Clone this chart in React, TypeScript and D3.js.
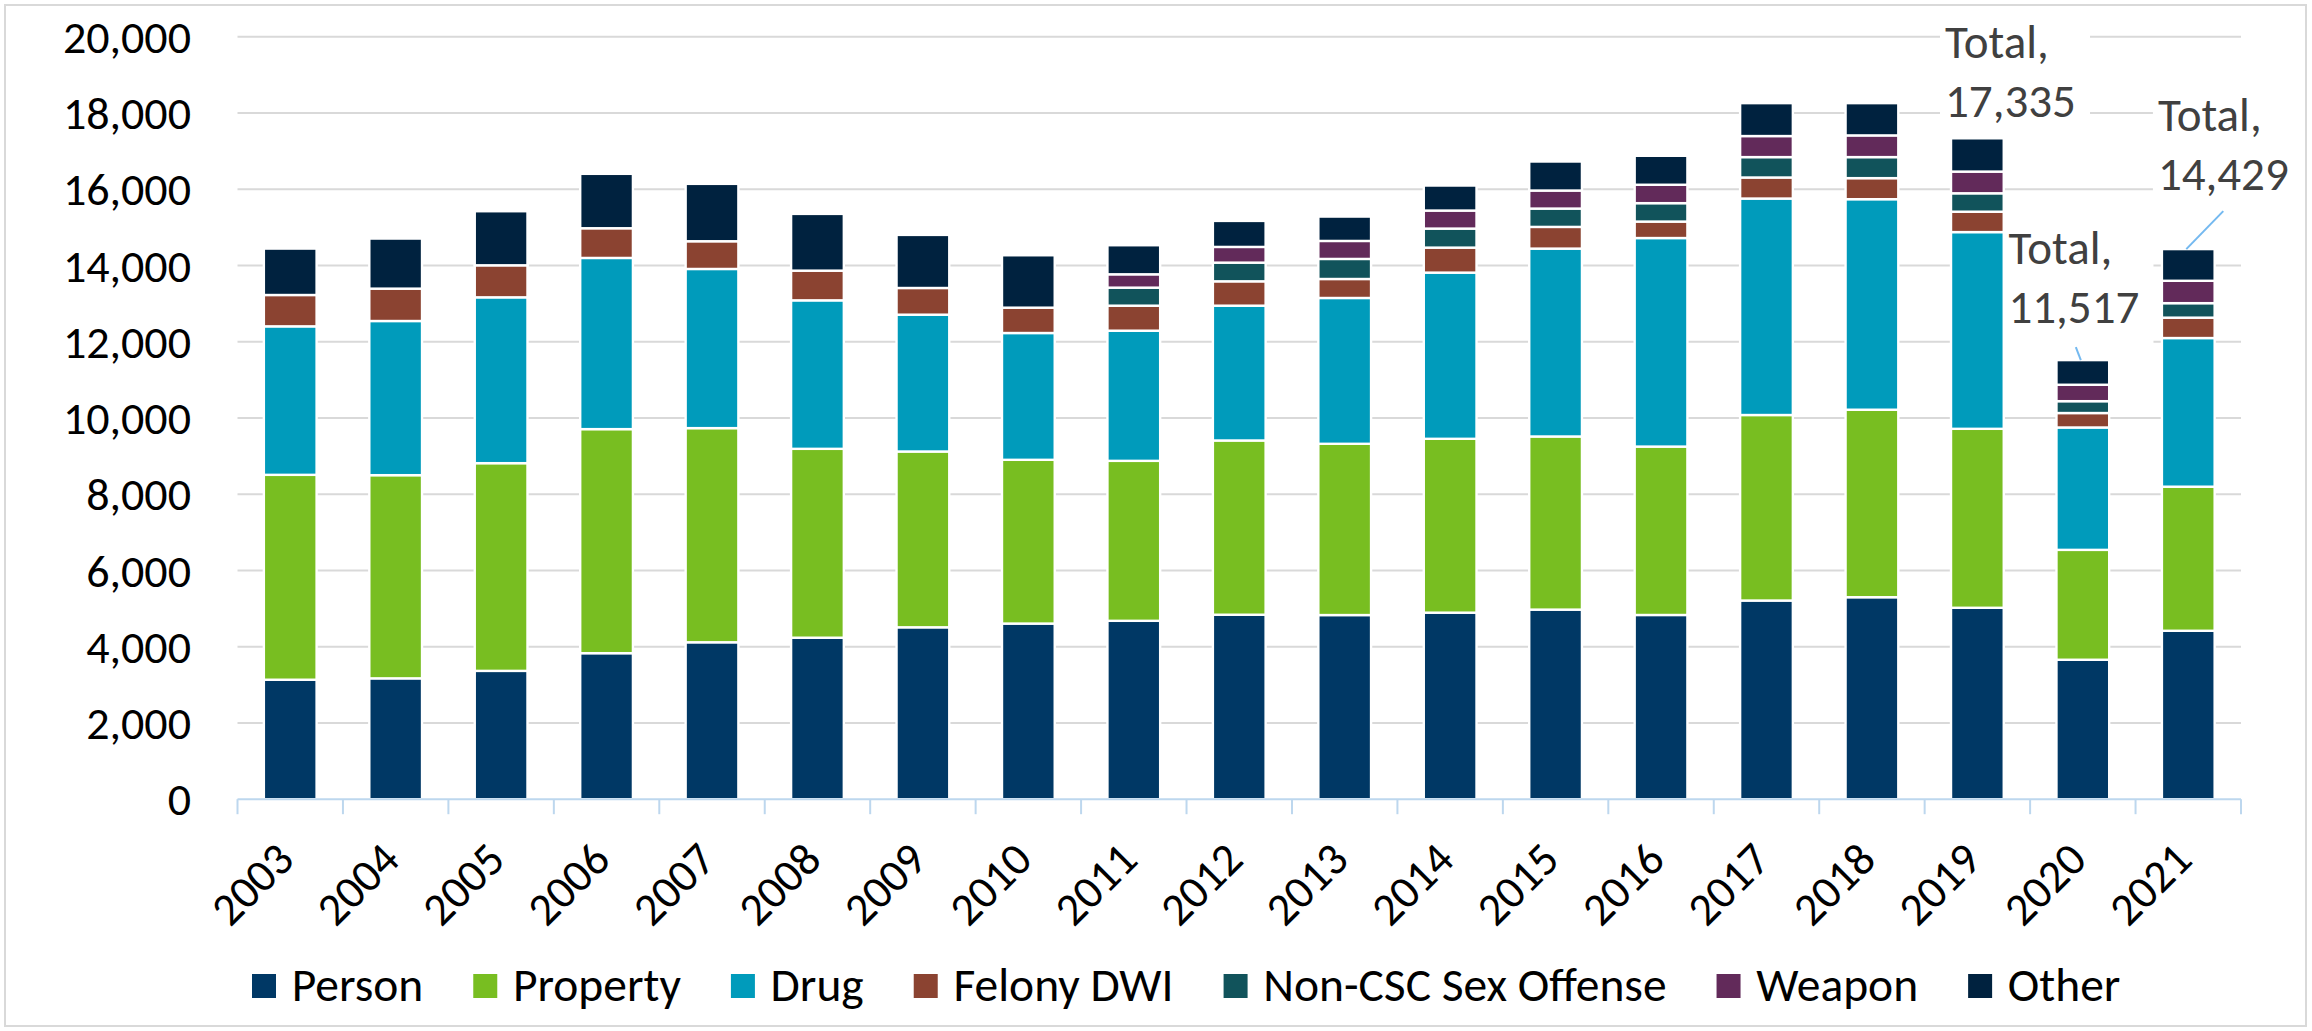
import { useEffect, useRef } from "react";
import * as d3 from "d3";

const years = [
  "2003", "2004", "2005", "2006", "2007", "2008", "2009", "2010", "2011", "2012",
  "2013", "2014", "2015", "2016", "2017", "2018", "2019", "2020", "2021",
];

const person = [3134, 3170, 3366, 3830, 4116, 4236, 4509, 4607, 4679, 4839, 4830, 4893, 4973, 4832, 5211, 5298, 5021, 3658, 4418];
const property = [5374, 5329, 5448, 5877, 5617, 4954, 4611, 4295, 4196, 4570, 4492, 4560, 4541, 4417, 4866, 4918, 4694, 2882, 3779];
const drug = [3895, 4044, 4350, 4490, 4175, 3895, 3589, 3326, 3414, 3536, 3825, 4359, 4928, 5470, 5678, 5522, 5160, 3210, 3899];
const felonyDwi = [822, 849, 840, 779, 727, 779, 700, 665, 656, 639, 498, 656, 569, 432, 552, 552, 535, 379, 535];
const sexOffense = [0, 0, 0, 0, 0, 0, 0, 0, 473, 490, 526, 499, 481, 483, 535, 552, 483, 311, 380];
const weapon = [0, 0, 0, 0, 0, 0, 0, 0, 350, 412, 472, 473, 473, 483, 552, 569, 569, 431, 587];
const other = [1217, 1313, 1418, 1427, 1505, 1488, 1392, 1374, 762, 682, 639, 656, 761, 759, 863, 846, 873, 646, 831];

const seriesNames = ["Person", "Property", "Drug", "Felony DWI", "Non-CSC Sex Offense", "Weapon", "Other"];
const seriesValues = [person, property, drug, felonyDwi, sexOffense, weapon, other];
const seriesColors = ["#003865", "#78BE21", "#009BBB", "#8B4331", "#11535B", "#622A5A", "#00223F"];

const yTicks = [0, 2000, 4000, 6000, 8000, 10000, 12000, 14000, 16000, 18000, 20000];

// total labels placed by hand in the original, offsets from bar left / bar top
const totalLabels = [
  { year: "2019", dx: -6, dy: -21, leader: false },
  { year: "2020", dx: -48, dy: -37, leader: true, lx: -7, ly: -13 },
  { year: "2021", dx: -4, dy: -59, leader: true, lx: 35, ly: -38 },
];

const FONT = "Carlito, Calibri, Lato, sans-serif";

export default function App() {
  const svgRef = useRef<SVGSVGElement>(null);

  useEffect(() => {
    document.body.style.margin = "0";
    if (!svgRef.current) return;
    const svg = d3.select(svgRef.current);
    svg.selectAll("*").remove();

    const W = 2312;
    const H = 1031;
    const left = 237.5;
    const right = 2241;
    const top = 36.7;
    const bottom = 799.2;

    // chart border
    svg.append("rect")
      .attr("x", 5).attr("y", 5)
      .attr("width", W - 11).attr("height", H - 10)
      .attr("fill", "#fff")
      .attr("stroke", "#D9D9D9")
      .attr("stroke-width", 2);

    const rows = years.map((y, i) => {
      const r: any = { year: y };
      seriesNames.forEach((n, s) => (r[n] = seriesValues[s][i]));
      return r;
    });
    const totals = years.map((_, i) => d3.sum(seriesValues, (s) => s[i]));

    const x = d3.scaleBand().domain(years).range([left, right]).paddingInner(0.5).paddingOuter(0.25);
    const y = d3.scaleLinear().domain([0, 20000]).range([bottom, top]);

    // gridlines
    svg.append("g")
      .selectAll("line")
      .data(yTicks.filter((t) => t > 0))
      .enter()
      .append("line")
      .attr("x1", left).attr("x2", right)
      .attr("y1", (d) => y(d)).attr("y2", (d) => y(d))
      .attr("stroke", "#D9D9D9")
      .attr("stroke-width", 2);

    // white boxes behind total labels (they cut the gridlines)
    const lab = svg.append("g");
    totalLabels.forEach((l) => {
      const i = years.indexOf(l.year);
      const bx = (x(l.year) || 0) + l.dx;
      const b2 = y(totals[i]) + l.dy;
      const b1 = b2 - 59;
      lab.append("rect")
        .attr("x", bx - 5).attr("y", b1 - 42)
        .attr("width", 150).attr("height", b2 - b1 + 64)
        .attr("fill", "#fff");
    });

    // y tick labels
    svg.append("g")
      .selectAll("text")
      .data(yTicks)
      .enter()
      .append("text")
      .attr("x", 191)
      .attr("y", (d) => y(d))
      .attr("dy", "0.35em")
      .attr("text-anchor", "end")
      .style("font-family", FONT)
      .style("font-size", "46px")
      .style("fill", "#000")
      .text((d) => d3.format(",")(d));

    // stacked bars
    const stack = d3.stack<any>().keys(seriesNames)(rows);
    svg.append("g")
      .selectAll("g")
      .data(stack)
      .enter()
      .append("g")
      .attr("fill", (_, i) => seriesColors[i])
      .selectAll("rect")
      .data((d) => d.filter((p) => p[1] - p[0] > 0))
      .enter()
      .append("rect")
      .attr("x", (d) => x(d.data.year) || 0)
      .attr("width", x.bandwidth())
      .attr("y", (d) => y(d[1]))
      .attr("height", (d) => y(d[0]) - y(d[1]))
      .attr("stroke", "#fff")
      .attr("stroke-width", 2.4);

    // x axis
    const ax = svg.append("g");
    ax.append("line")
      .attr("x1", left).attr("x2", right)
      .attr("y1", bottom).attr("y2", bottom)
      .attr("stroke", "#BDD7EE")
      .attr("stroke-width", 2);
    const step = x.step();
    ax.selectAll(".tick")
      .data(d3.range(years.length + 1))
      .enter()
      .append("line")
      .attr("x1", (i) => left + i * step).attr("x2", (i) => left + i * step)
      .attr("y1", bottom).attr("y2", bottom + 15)
      .attr("stroke", "#BDD7EE")
      .attr("stroke-width", 2);
    ax.selectAll("text")
      .data(years)
      .enter()
      .append("text")
      .attr("text-anchor", "end")
      .attr("transform", (d) => `translate(${(x(d) || 0) + x.bandwidth() / 2 + 6},862) rotate(-45)`)
      .style("font-family", FONT)
      .style("font-size", "46px")
      .style("fill", "#000")
      .text((d) => d);

    // total labels
    totalLabels.forEach((l) => {
      const i = years.indexOf(l.year);
      const bx = (x(l.year) || 0) + l.dx;
      const barTop = y(totals[i]);
      const b2 = barTop + l.dy;
      const t = lab.append("text")
        .style("font-family", FONT)
        .style("font-size", "47px")
        .style("fill", "#404040");
      t.append("tspan").attr("x", bx).attr("y", b2 - 59).text("Total,");
      t.append("tspan").attr("x", bx).attr("y", b2).text(d3.format(",")(totals[i]));
      if (l.leader) {
        const cx = (x(l.year) || 0) + x.bandwidth() / 2;
        svg.append("line")
          .attr("x1", cx + (l.lx || 0)).attr("y1", barTop + (l.ly || 0))
          .attr("x2", cx - 2).attr("y2", barTop)
          .attr("stroke", "#74B9F0")
          .attr("stroke-width", 2);
      }
    });

    // legend
    const lg = svg.append("g");
    let lx = 252;
    seriesNames.forEach((n, i) => {
      lg.append("rect")
        .attr("x", lx).attr("y", 974)
        .attr("width", 24).attr("height", 24)
        .attr("fill", seriesColors[i]);
      const txt = lg.append("text")
        .attr("x", lx + 39.7)
        .attr("y", 1000.7)
        .style("font-family", FONT)
        .style("font-size", "47.5px")
        .style("fill", "#000")
        .text(n);
      const w = (txt.node() as SVGTextElement).getComputedTextLength();
      lx = lx + 39.7 + w + 50;
    });
  }, []);

  return <svg ref={svgRef} width={2312} height={1031} style={{ display: "block" }} />;
}
